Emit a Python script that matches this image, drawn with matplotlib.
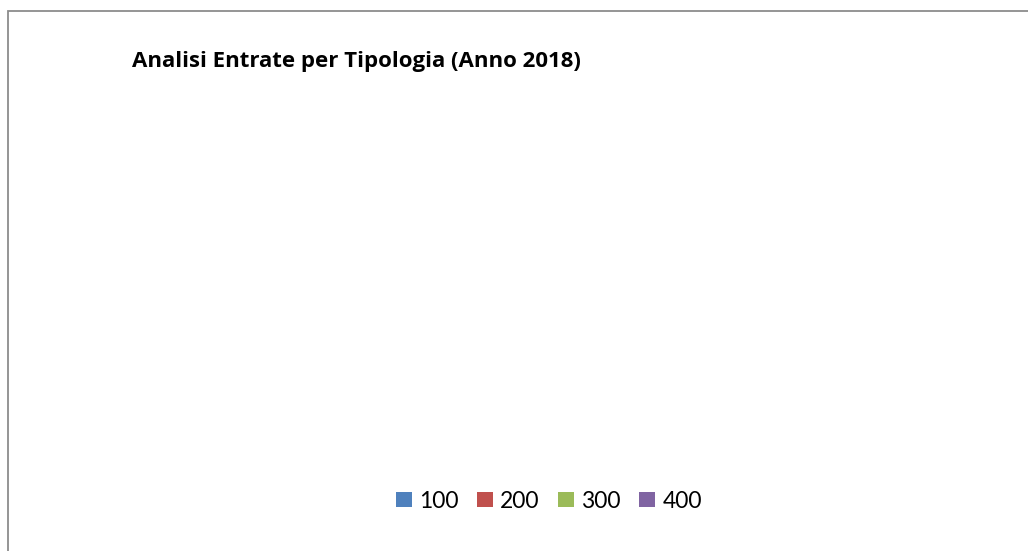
import matplotlib
matplotlib.use("Agg")
import matplotlib.pyplot as plt
from matplotlib.patches import Rectangle

title = "Analisi Entrate per Tipologia (Anno 2018)"
categories = ["100", "200", "300", "400"]
values = [0, 0, 0, 0]
colors = ["#4F81BD", "#C0504D", "#9BBB59", "#8064A2"]

W, H = 1028, 551
fig = plt.figure(figsize=(W / 100, H / 100), dpi=100)
fig.patch.set_facecolor("white")

# outer frame (extends beyond right/bottom edge)
fig.add_artist(Rectangle((7.5 / W, -0.05), 1.2, 1 - 10.5 / H + 0.05,
                         transform=fig.transFigure, fill=False,
                         edgecolor="#8C8C8C", linewidth=1.3))

ax = fig.add_axes([0.1, 0.2, 0.8, 0.6])
bars = ax.bar(categories, values, color=colors)
ax.set_axis_off()

fig.text(132 / W, 1 - 67 / H, title, fontsize=16, fontweight="bold",
         family="Open Sans", ha="left", va="baseline")

leg = fig.legend(bars, categories, loc="center", ncol=4,
                 bbox_to_anchor=(549 / W, 1 - 501 / H),
                 frameon=False, prop={"family": "Lato", "size": 16.5},
                 handlelength=0.68, handleheight=0.68, handletextpad=0.33,
                 columnspacing=0.8)

fig.savefig("out.png", dpi=100)
